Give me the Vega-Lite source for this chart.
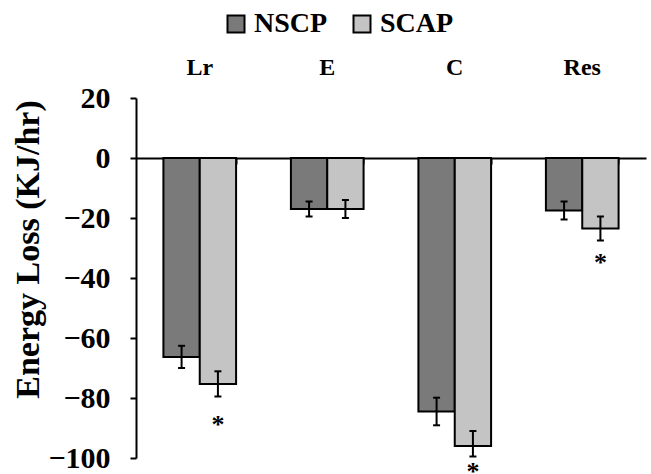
{
  "$schema": "https://vega.github.io/schema/vega-lite/v6.json",
  "width": 510,
  "height": 360,
  "autosize": {"type": "none"},
  "padding": {"left": 136, "top": 98, "right": 5, "bottom": 16},
  "background": "white",
  "config": {"view": {"stroke": null}, "font": "Liberation Serif"},
  "data": {
    "values": [
      {"cat": "Lr", "grp": "NSCP", "mean": -66.3, "lo": -70, "hi": -62.6},
      {"cat": "Lr", "grp": "SCAP", "mean": -75.3, "lo": -79.5, "hi": -71.1, "star": -87},
      {"cat": "E", "grp": "NSCP", "mean": -17, "lo": -19.5, "hi": -14.5},
      {"cat": "E", "grp": "SCAP", "mean": -17, "lo": -20, "hi": -14},
      {"cat": "C", "grp": "NSCP", "mean": -84.5, "lo": -89.1, "hi": -79.9},
      {"cat": "C", "grp": "SCAP", "mean": -96, "lo": -99.5, "hi": -91, "star": -102.5},
      {"cat": "Res", "grp": "NSCP", "mean": -17.5, "lo": -20.5, "hi": -14.5},
      {"cat": "Res", "grp": "SCAP", "mean": -23.5, "lo": -27.5, "hi": -19.5, "star": -33}
    ]
  },
  "encoding": {
    "x": {"field": "cat", "type": "nominal", "sort": ["Lr", "E", "C", "Res"], "axis": null,
          "scale": {"paddingInner": 0.43, "paddingOuter": 0.215}},
    "xOffset": {"field": "grp", "type": "nominal", "sort": ["NSCP", "SCAP"],
                "scale": {"paddingInner": 0, "paddingOuter": 0}}
  },
  "layer": [
    {
      "mark": {"type": "bar", "stroke": "black", "strokeWidth": 2, "opacity": 1},
      "encoding": {
        "x": {"field": "cat", "type": "nominal", "sort": ["Lr", "E", "C", "Res"],
              "axis": {"orient": "top", "domain": false, "ticks": false, "tickSize": 0, "labelPadding": 24,
                       "labelFont": "Liberation Serif", "labelFontWeight": "bold", "labelFontSize": 24,
                       "labelColor": "black", "labelAngle": 0, "labelBaseline": "alphabetic", "title": null, "grid": false}},
        "y": {"field": "mean", "type": "quantitative",
              "scale": {"domain": [-100, 20], "nice": false, "zero": false},
              "axis": {"values": [-100, -80, -60, -40, -20, 0, 20], "grid": false,
                       "domainColor": "black", "domainWidth": 2, "tickColor": "black", "tickWidth": 2, "tickSize": 6,
                       "labelFont": "Liberation Serif", "labelFontWeight": "bold", "labelFontSize": 30,
                       "labelColor": "black", "labelPadding": 20,
                       "title": "Energy Loss (KJ/hr)", "titleFont": "Liberation Serif", "titleFontWeight": "bold",
                       "titleFontSize": 34, "titleColor": "black", "titleAngle": -90, "titleX": -108, "titleY": 151,
                       "titleBaseline": "middle", "titleAlign": "center"}},
        "fill": {"field": "grp", "type": "nominal",
                 "scale": {"domain": ["NSCP", "SCAP"], "range": ["#7a7a7a", "#c4c4c4"]},
                 "legend": {"orient": "none", "legendX": 86, "legendY": -88, "direction": "horizontal", "title": null,
                            "symbolType": "square", "symbolSize": 289, "symbolStrokeColor": "black",
                            "symbolStrokeWidth": 2, "symbolOpacity": 1, "labelFont": "Liberation Serif",
                            "labelFontWeight": "bold", "labelFontSize": 28, "labelColor": "black",
                            "labelOffset": 4, "columnPadding": 20, "padding": 0}}
      }
    },
    {
      "mark": {"type": "rule", "color": "black", "strokeWidth": 2},
      "encoding": {
        "x": {"field": "cat", "type": "nominal", "sort": ["Lr", "E", "C", "Res"],
              "axis": {"orient": "bottom", "offset": -300, "labels": false, "domain": true, "domainColor": "black",
                       "domainWidth": 2, "ticks": true, "tickColor": "black", "tickWidth": 2, "tickSize": 6,
                       "bandPosition": 1, "title": null, "grid": false}},
        "y": {"field": "lo", "type": "quantitative"},
        "y2": {"field": "hi"}
      }
    },
    {
      "mark": {"type": "tick", "color": "black", "thickness": 2, "size": 7, "opacity": 1},
      "encoding": {"y": {"field": "lo", "type": "quantitative"}}
    },
    {
      "mark": {"type": "tick", "color": "black", "thickness": 2, "size": 7, "opacity": 1},
      "encoding": {"y": {"field": "hi", "type": "quantitative"}}
    },
    {
      "transform": [{"filter": "isValid(datum.star)"}],
      "mark": {"type": "text", "text": "*", "font": "Liberation Serif", "fontWeight": "bold", "fontSize": 26,
               "baseline": "middle", "dy": 6, "color": "black"},
      "encoding": {"y": {"field": "star", "type": "quantitative"}}
    }
  ]
}
